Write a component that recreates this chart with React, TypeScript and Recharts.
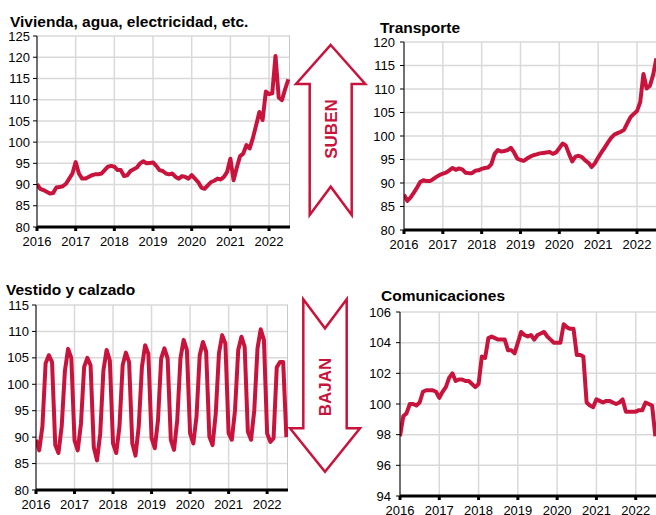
import React from "react";
import { LineChart, Line, XAxis, YAxis, CartesianGrid, ReferenceLine } from "recharts";

// Monthly indices, Jan 2016 .. Jul 2022
const yearLabels = ["2016", "2017", "2018", "2019", "2020", "2021", "2022"];
const xTicks = [0, 12, 24, 36, 48, 60, 72];

const vivienda = [
  90.1, 89.0, 88.7, 88.3, 87.9, 88.0, 89.3, 89.4, 89.6, 90.2, 91.4, 92.6,
  95.3, 92.6, 91.4, 91.4, 91.8, 92.2, 92.4, 92.4, 92.6, 93.4, 94.2, 94.4,
  94.2, 93.4, 93.4, 92.0, 92.2, 93.2, 93.6, 94.0, 95.0, 95.5, 95.0, 95.1,
  95.2, 94.4, 93.4, 93.2, 92.6, 92.4, 92.6, 91.8, 91.4, 92.0, 91.8, 91.4,
  92.2, 91.4, 90.6, 89.3, 89.0, 89.8, 90.6, 90.9, 91.4, 91.2, 91.8, 93.0,
  96.1, 91.0, 94.0, 96.7, 97.3, 99.3, 98.5, 101.0, 104.0, 107.1, 105.2, 111.9,
  111.3, 111.5, 120.3, 110.5, 109.9, 112.5, 114.8,
];

const transporte = [
  87.5, 86.2, 86.9, 87.9, 89.0, 90.2, 90.6, 90.4, 90.4, 90.8, 91.3, 91.7,
  92.0, 92.2, 92.7, 93.2, 92.8, 93.1, 92.9, 92.2, 92.1, 92.1, 92.6, 92.7,
  93.0, 93.2, 93.3, 94.0, 96.2, 97.0, 96.7, 96.8, 97.0, 97.5, 96.5, 95.2,
  94.9, 94.7, 95.2, 95.6, 95.9, 96.1, 96.3, 96.4, 96.5, 96.6, 96.2, 96.5,
  97.4, 98.4, 98.0, 96.2, 94.6, 95.6, 95.8, 95.5, 94.8, 94.3, 93.4, 94.2,
  95.4, 96.5, 97.5, 98.6, 99.6, 100.3, 100.6, 100.9, 101.3, 102.7, 104.0, 104.7,
  105.3, 107.2, 113.2, 110.1, 110.7, 113.0, 116.5,
];

const vestido = [
  89.5, 87.5, 92.0, 104.0, 105.5, 104.2, 88.5, 87.0, 92.0, 102.5, 106.7, 105.0,
  89.4, 87.5, 92.5, 103.3, 105.0, 103.6, 88.1, 85.6, 90.6, 102.6, 106.5, 104.5,
  88.8, 87.0, 92.0, 103.6, 106.0, 104.2, 88.8, 86.5, 92.0, 103.3, 107.4, 105.8,
  89.8, 87.9, 93.2, 104.9, 106.8, 104.9, 89.5, 87.6, 93.2, 104.9, 108.4, 106.5,
  90.7, 88.8, 93.9, 105.5, 108.0, 106.2, 90.1, 88.5, 94.5, 105.9, 109.3, 107.7,
  90.7, 89.5, 95.1, 106.5, 109.0, 107.1, 91.0, 89.5, 95.1, 106.8, 110.4, 108.4,
  90.7, 89.1, 89.8, 103.2, 104.2, 104.2, 90.0,
];

const comunicaciones = [
  97.9, 99.2, 99.4, 100.0, 100.0, 99.9, 100.1, 100.8, 100.9, 100.9, 100.9, 100.8,
  100.4, 100.8, 101.1, 101.7, 102.0, 101.5, 101.6, 101.6, 101.5, 101.5, 101.3, 101.1,
  101.3, 103.1, 103.0, 104.3, 104.4, 104.3, 104.2, 104.2, 104.2, 103.5, 103.5, 103.3,
  104.0, 104.7, 104.5, 104.4, 104.5, 104.2, 104.5, 104.6, 104.7, 104.4, 104.2, 104.0,
  104.0, 104.0, 105.2, 105.0, 104.9, 104.9, 103.2, 103.2, 103.1, 100.1, 99.9, 99.8,
  100.3, 100.2, 100.1, 100.2, 100.2, 100.1, 100.0, 100.1, 100.3, 99.5, 99.5, 99.5,
  99.5, 99.6, 99.6, 100.1, 100.0, 99.9, 97.9,
];

const ticksViv = [80, 85, 90, 95, 100, 105, 110, 115, 120, 125];
const ticksTra = [80, 85, 90, 95, 100, 105, 110, 115, 120];
const ticksVes = [80, 85, 90, 95, 100, 105, 110, 115];
const ticksCom = [94, 96, 98, 100, 102, 104, 106];

const titles = ["Vivienda, agua, electricidad, etc.", "Transporte", "Vestido y calzado", "Comunicaciones"];

const RED = "#C8143C";
const GRID = "#D9D9D9";
const FONT = "'Liberation Sans', Arial, sans-serif";
const X_MAX = 78.5;

type PanelProps = {
  values: number[];
  ticks: number[];
  left: number;
  top: number;
  width: number;
  height: number;
  marginTop: number;
  yWidth: number;
  yMargin: number;
};

function Panel({ values, ticks, left, top, width, height, marginTop, yWidth, yMargin }: PanelProps) {
  const data = values.map((v, i) => ({ t: i, v }));
  const tickStyle = { fontSize: 13, fill: "#000", fontFamily: FONT };
  return (
    <div style={{ position: "absolute", left, top }}>
      <LineChart width={width} height={height} data={data} margin={{ top: marginTop, right: 0, bottom: 0, left: 0 }}>
        <CartesianGrid stroke={GRID} strokeWidth={1.5} />
        <XAxis
          type="number"
          dataKey="t"
          domain={[0, X_MAX]}
          ticks={xTicks}
          interval={0}
          allowDataOverflow
          tickFormatter={(v: number) => yearLabels[Math.round(v / 12)]}
          height={25}
          tick={tickStyle}
          tickSize={4}
          tickMargin={6}
          axisLine={{ stroke: "#000", strokeWidth: 3 }}
          tickLine={{ stroke: "#000", strokeWidth: 3 }}
        />
        <YAxis
          type="number"
          domain={[ticks[0], ticks[ticks.length - 1]]}
          ticks={ticks}
          interval={0}
          allowDataOverflow
          width={yWidth}
          tick={tickStyle}
          tickSize={4}
          tickMargin={yMargin}
          axisLine={{ stroke: "#000", strokeWidth: 1 }}
          tickLine={{ stroke: "#000", strokeWidth: 1 }}
        />
        <ReferenceLine x={X_MAX} stroke="#C8C8C8" strokeWidth={2} />
        <Line
          type="linear"
          dataKey="v"
          stroke={RED}
          strokeWidth={4}
          dot={false}
          strokeLinejoin="round"
          isAnimationActive={false}
        />
      </LineChart>
    </div>
  );
}

export default function App() {
  return (
    <div style={{ position: "absolute", left: 0, top: 0, width: 656, height: 515, overflow: "hidden", background: "#fff" }}>
      <Panel values={vivienda} ticks={ticksViv} left={0} top={0} width={290} height={252} marginTop={36} yWidth={37} yMargin={3} />
      <Panel values={transporte} ticks={ticksTra} left={367} top={0} width={291} height={255} marginTop={42} yWidth={37} yMargin={5} />
      <Panel values={vestido} ticks={ticksVes} left={0} top={270} width={288} height={245} marginTop={35} yWidth={36} yMargin={3} />
      <Panel values={comunicaciones} ticks={ticksCom} left={363} top={270} width={294} height={251} marginTop={42} yWidth={37} yMargin={5} />
      <svg width={656} height={515} style={{ position: "absolute", left: 0, top: 0, pointerEvents: "none" }}>
        <g fontFamily={FONT} fontWeight="bold" fontSize={15.5} fill="#000">
          <text x={10} y={27}>{titles[0]}</text>
          <text x={380} y={32.5}>{titles[1]}</text>
          <text x={6} y={295}>{titles[2]}</text>
          <text x={381} y={300.5}>{titles[3]}</text>
        </g>
        <path
          d="M330.7,45 L365.3,84 L351.7,84 L351.7,215 L330.7,186.7 L309.7,215 L309.7,84 L296,84 Z"
          fill="#fff"
          stroke={RED}
          strokeWidth={2.5}
          strokeLinejoin="miter"
        />
        <text
          x={331}
          y={129}
          transform="rotate(-90 331 129)"
          textAnchor="middle"
          dominantBaseline="central"
          fontFamily={FONT}
          fontWeight="bold"
          fontSize={17}
          fill={RED}
        >
          SUBEN
        </text>
        <path
          d="M303.3,299.3 L325,328.3 L346.7,299.3 L346.7,428.3 L360,428.3 L325,471.7 L290,428.3 L303.3,428.3 Z"
          fill="#fff"
          stroke={RED}
          strokeWidth={2.5}
          strokeLinejoin="miter"
        />
        <text
          x={325}
          y={387}
          transform="rotate(-90 325 387)"
          textAnchor="middle"
          dominantBaseline="central"
          fontFamily={FONT}
          fontWeight="bold"
          fontSize={17}
          fill={RED}
        >
          BAJAN
        </text>
      </svg>
    </div>
  );
}
